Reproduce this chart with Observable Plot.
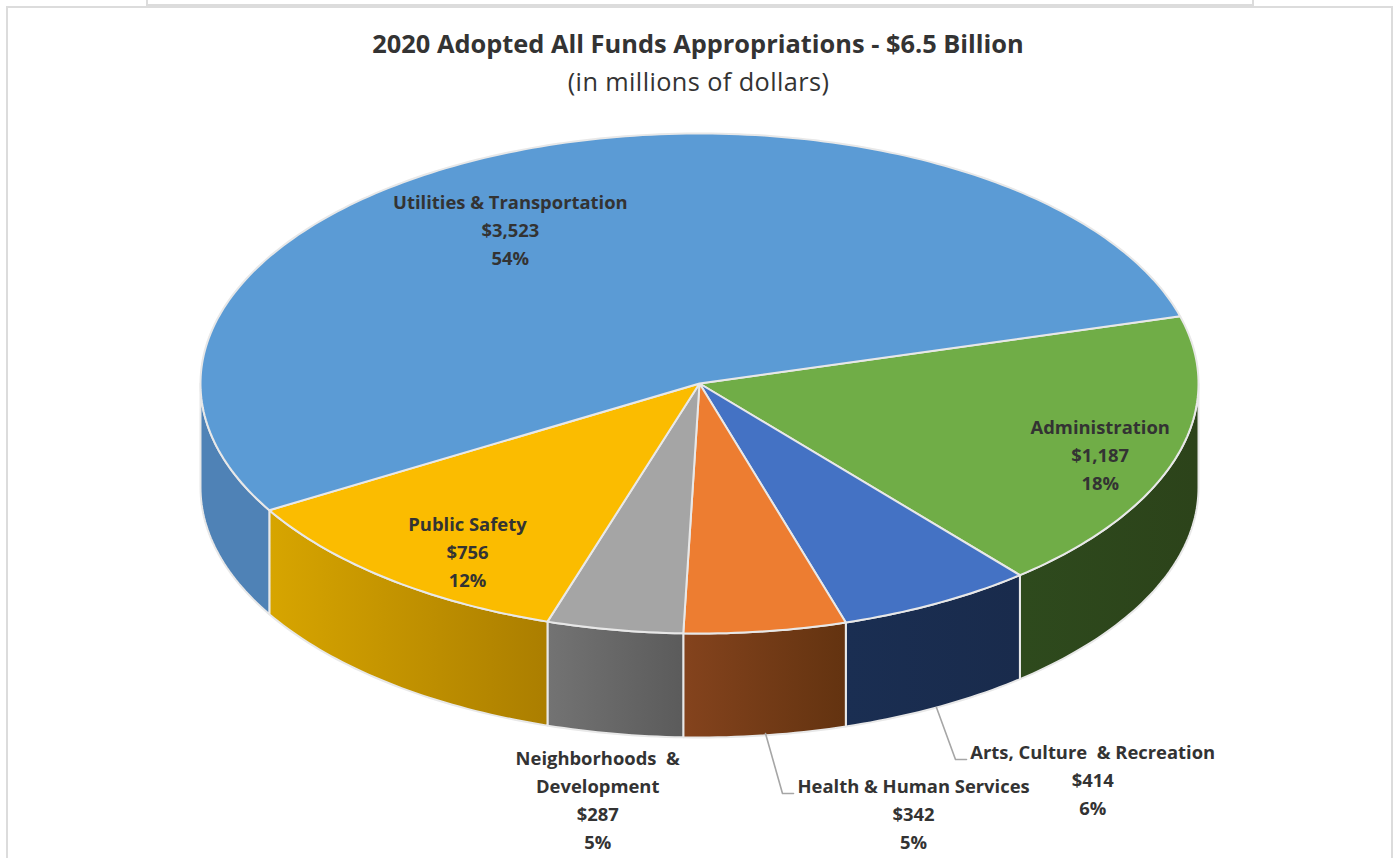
<!DOCTYPE html>
<html>
<head>
<meta charset="utf-8">
<script src="https://cdn.jsdelivr.net/npm/d3@7"></script>
<script src="https://cdn.jsdelivr.net/npm/@observablehq/plot@0.6"></script>
<style>
  html, body { margin: 0; padding: 0; background: #fff; width: 1399px; height: 858px; overflow: hidden; }
  body { position: relative; font-family: "Open Sans", sans-serif; color: #333; }
  .frame { position: absolute; box-sizing: border-box; border: 2px solid #dcdcdc; }
  #outer { left: 6px; top: 6px; width: 1387px; height: 900px; }
  #inner { left: 146px; top: -20px; width: 1108px; height: 26px; }
  #head { position: relative; height: 100px; text-align: center; }
  #title { position: absolute; left: 0; width: 1396px; top: 25px; font-size: 25.4px; line-height: 36px; font-weight: 700; }
  #sub { position: absolute; left: 0; width: 1397px; top: 63px; font-size: 25.3px; line-height: 36px; font-weight: 400; letter-spacing: 0.4px; }
  svg { display: block; position: relative; }
</style>
</head>
<body>
<div class="frame" id="inner"></div>
<div class="frame" id="outer"></div>
<div id="head">
  <div id="title">2020 Adopted All Funds Appropriations - $6.5 Billion</div>
  <div id="sub">(in millions of dollars)</div>
</div>
<div id="chart"></div>
<script>
// Data, in clockwise drawing order starting from Administration
const categories = ["Administration", "Arts, Culture  & Recreation", "Health & Human Services", "Neighborhoods  &\nDevelopment", "Public Safety", "Utilities & Transportation"];
const amounts = [1187, 414, 342, 287, 756, 3523];
const amountLabels = ["$1,187", "$414", "$342", "$287", "$756", "$3,523"];
const percentLabels = ["18%", "6%", "5%", "5%", "12%", "54%"];

// Styles
const topColors = ["#70ad47", "#4472c4", "#ed7d31", "#a5a5a5", "#fbbc00", "#5b9bd5"];
const wallFrom = ["#2e4a1d", "#1a2e52", "#84431d", "#737373", "#d7a500", "#4f82b6"];
const wallTo = ["#2c431a", "#192b4c", "#633310", "#5b5b5b", "#ab7e00", "#4f82b6"];
const edge = "#e8e8e8";

// Placement, in units of the pie's radii (centre = 0,0)
const startAngle = -15.6;          // degrees clockwise from 3 o'clock
const wallDepth = 0.416;
const labelU = [0.803, 0.788, 0.429, -0.204, -0.465, -0.379];
const labelV = [-0.28, -1.58, -1.716, -1.658, -0.668, 0.62];
const leaders = [
  {id: "arts", u: 0.4749, v: -1.296},
  {id: "arts", u: 0.5130, v: -1.504},
  {id: "arts", u: 0.5351, v: -1.504},
  {id: "health", u: 0.1323, v: -1.400},
  {id: "health", u: 0.1663, v: -1.640},
  {id: "health", u: 0.1884, v: -1.640}
];

const total = d3.sum(amounts);
const cum = [0, ...d3.cumsum(amounts)];
const angleOf = (v) => startAngle + (v / total) * 360;
const pt = (deg, drop = 0) => {
  const a = (deg * Math.PI) / 180;
  return {u: Math.cos(a), v: -Math.sin(a) - drop};
};
const arc = (a0, a1, drop = 0) => d3.range(0, 1.0001, 1 / Math.max(2, Math.ceil(Math.abs(a1 - a0)))).map((t) => pt(a0 + (a1 - a0) * t, drop));

const slices = amounts.map((d, i) => ({a0: angleOf(cum[i]), a1: angleOf(cum[i + 1]), i}));

const topPath = (s) => [{u: 0, v: 0}, ...arc(s.a0, s.a1), {u: 0, v: 0}];
const wallPath = (s) => {
  const a0 = Math.max(s.a0, 0), a1 = Math.min(s.a1, 180);
  if (a1 <= a0) return null;
  const top = arc(a0, a1), bottom = arc(a1, a0, wallDepth);
  return [...top, ...bottom, top[0]];
};

const lineOpts = {x: "u", y: "v", curve: "linear", strokeLinejoin: "round"};

const walls = slices.flatMap((s) => {
  const p = wallPath(s);
  return p ? [Plot.line(p, {...lineOpts, fill: `url(#wall${s.i})`, stroke: edge, strokeWidth: 2})] : [];
});
const tops = slices.map((s) => Plot.line(topPath(s), {...lineOpts, fill: topColors[s.i], stroke: edge, strokeWidth: 2}));

const labelRows = categories.map((c, i) => ({
  text: `${c}\n${amountLabels[i]}\n${percentLabels[i]}`,
  u: labelU[i],
  v: labelV[i]
}));

const chart = Plot.plot({
  width: 1399,
  height: 758,
  margin: 0,
  x: {domain: [-1, 1], range: [200, 1198], axis: null},
  y: {domain: [1, -1], range: [33, 533], axis: null},
  style: {background: "transparent"},
  marks: [
    walls,
    tops,
    Plot.line(leaders, {x: "u", y: "v", z: "id", stroke: "#a6a6a6", strokeWidth: 1.6, curve: "linear"}),
    Plot.text(labelRows, {
      x: "u", y: "v", text: "text",
      fontFamily: "Open Sans", fontWeight: 700, fontSize: 18.4, lineHeight: 1.52, fill: "#333", textAnchor: "middle"
    })
  ]
});

const defs = d3.select(chart).insert("defs", ":first-child");
wallFrom.forEach((c, i) => {
  const g = defs.append("linearGradient").attr("id", `wall${i}`).attr("x1", 0).attr("x2", 1).attr("y1", 0).attr("y2", 0);
  g.append("stop").attr("offset", 0).attr("stop-color", c);
  g.append("stop").attr("offset", 1).attr("stop-color", wallTo[i]);
});
document.getElementById("chart").append(chart);
</script>
</body>
</html>
